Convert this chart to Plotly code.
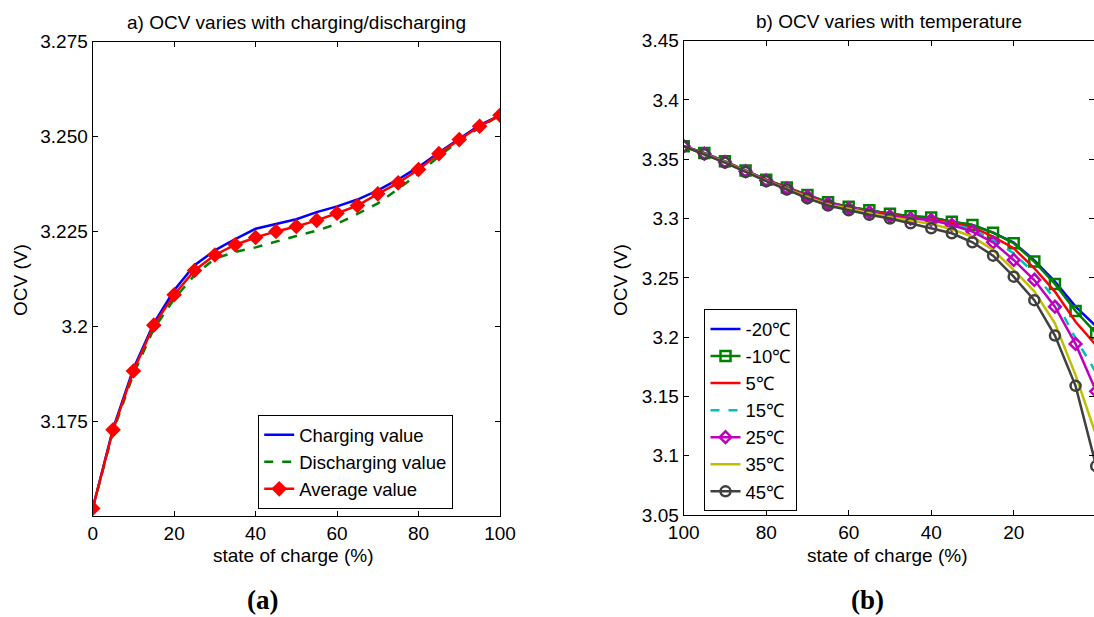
import plotly.graph_objects as go

# ---------------- data: panel (a) ----------------
soc_a = [0, 5, 10, 15, 20, 25, 30, 35, 40, 45, 50, 55, 60, 65, 70, 75, 80, 85, 90, 95, 100]
charging = [3.1520, 3.1730, 3.1888, 3.2008, 3.2095, 3.2161, 3.2200, 3.2230, 3.2257, 3.2270, 3.2282,
            3.2301, 3.2316, 3.2334, 3.2358, 3.2387, 3.2420, 3.2458, 3.2495, 3.2530, 3.2556]
discharging = [3.1520, 3.1722, 3.1874, 3.1993, 3.2072, 3.2135, 3.2178, 3.2196, 3.2208, 3.2224, 3.2238,
               3.2252, 3.2270, 3.2296, 3.2324, 3.2362, 3.2402, 3.2448, 3.2489, 3.2524, 3.2556]
average = [3.1520, 3.1727, 3.1882, 3.2003, 3.2083, 3.2147, 3.2188, 3.2215, 3.2234, 3.2250, 3.2263,
           3.2279, 3.2298, 3.2318, 3.2349, 3.2378, 3.2413, 3.2455, 3.2492, 3.2527, 3.2556]
a_ticks = [3.175, 3.2, 3.225, 3.25, 3.275]
a_ticktext = ["3.175", "3.2", "3.225", "3.250", "3.275"]

# ---------------- data: panel (b) ----------------
soc_b = [100, 95, 90, 85, 80, 75, 70, 65, 60, 55, 50, 45, 40, 35, 30, 25, 20, 15, 10, 5, 0]
t_m20 = [3.3610, 3.3552, 3.3482, 3.3405, 3.3327, 3.3262, 3.3195, 3.3135, 3.3098, 3.3068, 3.3040,
         3.3020, 3.3008, 3.2973, 3.2945, 3.2882, 3.2797, 3.2648, 3.2468, 3.2258, 3.2090]
t_m10 = [3.3610, 3.3553, 3.3483, 3.3406, 3.3328, 3.3263, 3.3198, 3.3138, 3.3100, 3.3070, 3.3040,
         3.3020, 3.3008, 3.2974, 3.2945, 3.2881, 3.2792, 3.2637, 3.2449, 3.2220, 3.2033]
t_5 = [3.3610, 3.3550, 3.3480, 3.3402, 3.3325, 3.3258, 3.3190, 3.3130, 3.3092, 3.3060, 3.3032,
       3.3010, 3.2995, 3.2962, 3.2927, 3.2847, 3.2750, 3.2581, 3.2384, 3.2130, 3.1930]
t_15 = [3.3610, 3.3548, 3.3478, 3.3400, 3.3322, 3.3255, 3.3186, 3.3126, 3.3088, 3.3055, 3.3025,
        3.3003, 3.2987, 3.2952, 3.2910, 3.2820, 3.2707, 3.2539, 3.2320, 3.1990, 3.1700]
t_25 = [3.3610, 3.3548, 3.3478, 3.3400, 3.3322, 3.3255, 3.3185, 3.3125, 3.3087, 3.3053, 3.3020,
        3.3000, 3.2988, 3.2946, 3.2890, 3.2800, 3.2651, 3.2482, 3.2257, 3.1943, 3.1543]
t_35 = [3.3610, 3.3545, 3.3475, 3.3397, 3.3318, 3.3250, 3.3180, 3.3118, 3.3080, 3.3045, 3.3012,
        3.2985, 3.2955, 3.2910, 3.2847, 3.2735, 3.2567, 3.2386, 3.2117, 3.1680, 3.1170]
t_45 = [3.3610, 3.3543, 3.3472, 3.3393, 3.3315, 3.3245, 3.3170, 3.3110, 3.3070, 3.3032, 3.3000,
        3.2960, 3.2918, 3.2876, 3.2800, 3.2687, 3.2510, 3.2312, 3.2013, 3.1589, 3.0912]
b_ticks = [3.05, 3.1, 3.15, 3.2, 3.25, 3.3, 3.35, 3.4, 3.45]
b_ticktext = ["3.05", "3.1", "3.15", "3.2", "3.25", "3.3", "3.35", "3.4", "3.45"]
x_ticks = [0, 20, 40, 60, 80, 100]

FONT = "Arial, 'Liberation Sans', sans-serif"
FS = 19
FS_LEG = 18.5
W, H = 1094, 617

fig = go.Figure()

# panel (a)
fig.add_trace(go.Scatter(x=soc_a, y=charging, mode="lines", name="Charging value",
                         line=dict(color="#0000FF", width=2.5), xaxis="x", yaxis="y",
                         legend="legend"))
fig.add_trace(go.Scatter(x=soc_a, y=discharging, mode="lines", name="Discharging value",
                         line=dict(color="#008000", width=2.5, dash="dash"), xaxis="x", yaxis="y",
                         legend="legend"))
fig.add_trace(go.Scatter(x=soc_a, y=average, mode="lines+markers", name="Average value",
                         line=dict(color="#FF0000", width=2.5),
                         marker=dict(symbol="diamond", size=12, color="#FF0000"),
                         xaxis="x", yaxis="y", legend="legend"))

# panel (b)
series_b = [
    ("-20\u2103", t_m20, "#0000FF", "solid", None),
    ("-10\u2103", t_m10, "#008000", "solid", "square-open"),
    ("5\u2103", t_5, "#FF0000", "solid", None),
    ("15\u2103", t_15, "#00BFBF", "dash", None),
    ("25\u2103", t_25, "#BF00BF", "solid", "diamond-open"),
    ("35\u2103", t_35, "#BFBF00", "solid", None),
    ("45\u2103", t_45, "#404040", "solid", "circle-open"),
]
for i, (nm, ys, col, dash, sym) in enumerate(series_b):
    kw = dict(mode="lines")
    if sym:
        kw = dict(mode="lines+markers",
                  marker=dict(symbol=sym, size=10 if sym != "diamond-open" else 9,
                              color=col, line=dict(width=2.5, color=col)))
    fig.add_trace(go.Scatter(x=soc_b, y=ys, name=nm, line=dict(color=col, width=2.5, dash=dash),
                             xaxis="x2", yaxis="y2", legend="legend2", **kw))

# dummy trace for right-side tick axis
fig.add_trace(go.Scatter(x=[], y=[], xaxis="x2", yaxis="y3", showlegend=False, hoverinfo="skip"))

ax_common = dict(showgrid=False, zeroline=False, showline=True, linecolor="black", linewidth=1.2,
                 ticks="inside", ticklen=5, tickcolor="black", tickwidth=1, automargin=False,
                 tickfont=dict(family=FONT, size=FS, color="black"))

fig.update_layout(
    template="none",
    width=W, height=H,
    margin=dict(l=0, r=0, t=0, b=0, pad=0),
    paper_bgcolor="white", plot_bgcolor="white",
    font=dict(family=FONT, size=FS, color="black"),
    showlegend=True,
    xaxis=dict(domain=[92.7 / W, 500 / W], range=[0, 100], tickvals=x_ticks, mirror="ticks",
               anchor="y", **ax_common),
    yaxis=dict(domain=[(H - 516) / H, (H - 41.7) / H], range=[3.15, 3.275], tickvals=a_ticks,
               ticktext=a_ticktext, mirror="ticks", anchor="x", **ax_common),
    xaxis2=dict(domain=[683.7 / W, 1.0], range=[100, 0.53], tickvals=x_ticks, mirror="ticks",
                anchor="y2", **ax_common),
    yaxis2=dict(domain=[(H - 515) / H, (H - 40.7) / H], range=[3.05, 3.45], tickvals=b_ticks,
                ticktext=b_ticktext, mirror=False, anchor="x2", **ax_common),
    yaxis3=dict(overlaying="y2", side="right", anchor="x2", range=[3.05, 3.45], tickvals=b_ticks,
                showticklabels=False, showgrid=False, zeroline=False, showline=False,
                automargin=False, ticks="inside", ticklen=5, tickcolor="black"),
    legend=dict(x=258 / W, y=(H - 415) / H, xanchor="left", yanchor="top",
                bordercolor="black", borderwidth=1.2, bgcolor="white",
                font=dict(family=FONT, size=FS_LEG, color="black"), tracegroupgap=0),
    legend2=dict(x=704.3 / W, y=(H - 309.3) / H, xanchor="left", yanchor="top",
                 bordercolor="black", borderwidth=1.2, bgcolor="white",
                 font=dict(family=FONT, size=FS_LEG, color="black"), tracegroupgap=0),
)

annots = [
    dict(text="a) OCV varies with charging/discharging", x=296 / W, y=(H - 23) / H),
    dict(text="b) OCV varies with temperature", x=889 / W, y=(H - 22) / H),
    dict(text="state of charge (%)", x=293 / W, y=(H - 555) / H),
    dict(text="state of charge (%)", x=887 / W, y=(H - 555) / H),
    dict(text="OCV (V)", x=20 / W, y=(H - 280) / H, textangle=-90),
    dict(text="OCV (V)", x=620 / W, y=(H - 280) / H, textangle=-90),
]
for a in annots:
    fig.add_annotation(xref="paper", yref="paper", showarrow=False, xanchor="center",
                       yanchor="middle", font=dict(family=FONT, size=FS, color="black"), **a)
for txt, xc in [("(a)", 262), ("(b)", 867)]:
    fig.add_annotation(xref="paper", yref="paper", showarrow=False, xanchor="center",
                       yanchor="middle", x=xc / W, y=(H - 600) / H, text="<b>%s</b>" % txt,
                       font=dict(family="'Times New Roman', 'Liberation Serif', serif", size=27,
                                 color="black"))

fig.write_html("out.html")
